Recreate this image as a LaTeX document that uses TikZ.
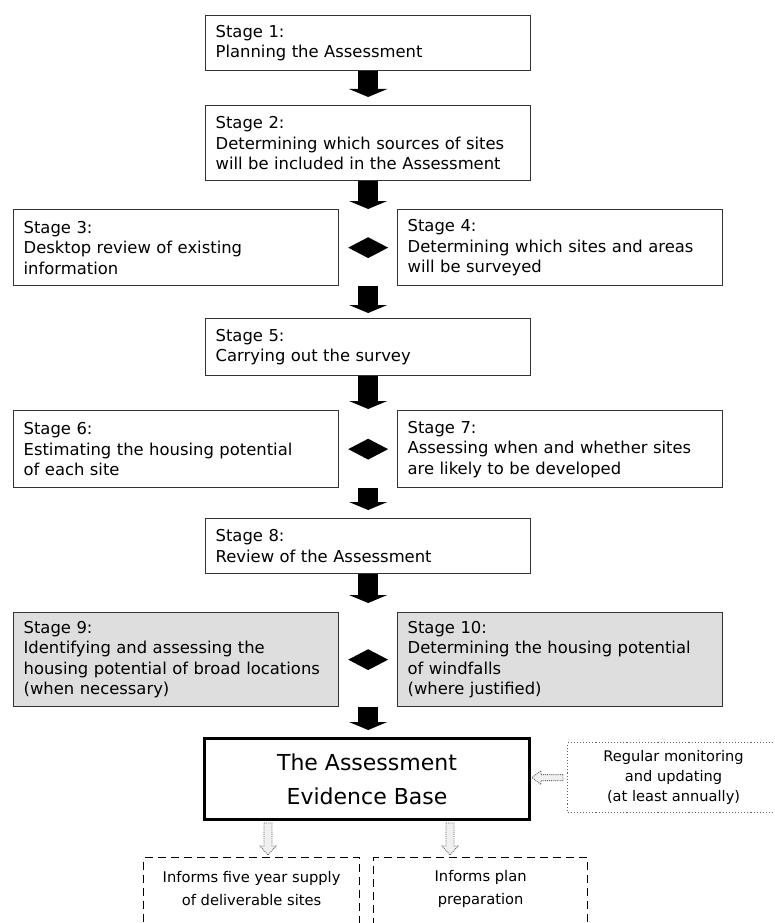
\documentclass[tikz,border=0pt]{standalone}
\usepackage{fontspec}
\setmainfont{DejaVu Sans}
\usetikzlibrary{arrows.meta,shapes.geometric,calc}
\tikzset{
  stagebox/.style={draw=black!80, line width=1.3pt, fill=white, anchor=north west,
    text width=305pt, inner xsep=10pt, inner ysep=0pt, align=left,
    font=\fontsize{16.4}{20.5}\selectfont},
  shaded/.style={fill=black!13},
  blockarrow/.style={line width=20pt, draw=black, -{Triangle[width=38pt,length=8pt]}},
  linkmark/.style={diamond, fill=black, minimum width=40pt, minimum height=21pt, inner sep=0pt},
  basebox/.style={draw=black, line width=3pt, fill=white, anchor=north west, align=center,
    inner sep=0pt, font=\fontsize{22}{34}\selectfont},
  monbox/.style={draw=black!60, line width=1.1pt, dotted, anchor=north west, align=center,
    inner sep=0pt, font=\fontsize{14.6}{20}\selectfont},
  dashbox/.style={draw=black, line width=1.2pt, dash pattern=on 8pt off 5pt, anchor=north west, inner sep=0pt},
  dashtext/.style={align=center, inner sep=0pt, font=\fontsize{14.7}{23}\selectfont},
  hollow/.style={fill=black!6, draw=black!60, line width=0.9pt, densely dotted},
  hdown/.pic={\draw[hollow] (-4,0) -- (4,0) -- (4,23) -- (8,23) -- (0,32) -- (-8,23) -- (-4,23) -- cycle;},
  hleft/.pic={\draw[hollow] (0,-3) -- (-22,-3) -- (-22,-7) -- (-31,0) -- (-22,7) -- (-22,3) -- (0,3) -- cycle;}
}
\begin{document}
\begin{tikzpicture}[x=1pt,y=-1pt]
\useasboundingbox (0,0) rectangle (774,923);
\fill[white] (0,0) rectangle (774,923);
\clip (0,0) rectangle (774,923);

% stages
\node[stagebox, minimum height=55pt] (s1) at (205,15) {Stage 1:\\Planning the Assessment};
\node[stagebox, minimum height=75pt] (s2) at (205,105) {Stage 2:\\Determining which sources of sites\\will be included in the Assessment};
\node[stagebox, minimum height=76pt] (s3) at (13,209) {Stage 3:\\Desktop review of existing\\information};
\node[stagebox, minimum height=76pt] (s4) at (397,209) {Stage 4:\\Determining which sites and areas\\will be surveyed};
\node[stagebox, minimum height=57pt] (s5) at (205,318) {Stage 5:\\Carrying out the survey};
\node[stagebox, minimum height=77pt] (s6) at (13,410) {Stage 6:\\Estimating the housing potential\\of each site};
\node[stagebox, minimum height=77pt] (s7) at (397,410) {Stage 7:\\Assessing when and whether sites\\are likely to be developed};
\node[stagebox, minimum height=55pt] (s8) at (205,518) {Stage 8:\\Review of the Assessment};
\node[stagebox, shaded, minimum height=94pt] (s9) at (13,612) {Stage 9:\\Identifying and assessing the\\housing potential of broad locations\\(when necessary)};
\node[stagebox, shaded, minimum height=94pt] (s10) at (397,612) {Stage 10:\\Determining the housing potential\\of windfalls\\(where justified)};

% evidence base
\node[basebox, minimum width=325pt, minimum height=81pt] (eb) at (203,737) {The Assessment\\Evidence Base};
\node[monbox, minimum width=212pt, minimum height=70pt] (mon) at (567,742) {Regular monitoring\\and updating\\(at least annually)};

% outputs
\node[dashbox, minimum width=216pt, minimum height=110pt] (d1) at (143,857) {};
\node[dashbox, minimum width=214pt, minimum height=110pt] (d2) at (373,857) {};
\node[dashtext] (d1t) at ([yshift=-32pt]d1.north) {Informs five year supply\\of deliverable sites};
\node[dashtext] (d2t) at ([yshift=-32pt]d2.north) {Informs plan\\preparation};

% link diamonds
\node[linkmark] (k1) at ($(s3.east)!0.5!(s4.west)$) {};
\node[linkmark] (k2) at ($(s6.east)!0.5!(s7.west)$) {};
\node[linkmark] (k3) at ($(s9.east)!0.5!(s10.west)$) {};

% block arrows
\draw[blockarrow] (s1.south) -- ([yshift=8pt]s2.north);
\draw[blockarrow] (s2.south) -- (s2.south |- s3.north);
\draw[blockarrow] (s5.north |- s3.south) -- ([yshift=5pt]s5.north);
\draw[blockarrow] (s5.south) -- ([yshift=1pt]s5.south |- s6.north);
\draw[blockarrow] (s8.north |- s6.south) -- ([yshift=8pt]s8.north);
\draw[blockarrow] (s8.south) -- ([yshift=9pt]s8.south |- s9.north);
\draw[blockarrow] (s8.south |- s9.south) -- ([yshift=7pt]s8.south |- eb.north);

% hollow arrows
\coordinate (h1) at ($(eb.south west)+(65,2)$);
\coordinate (h2) at ($(eb.south west)+(247,2)$);
\coordinate (h3) at ([xshift=-4pt]mon.west);
\pic at (h1) {hdown};
\pic at (h2) {hdown};
\pic at (h3) {hleft};
\end{tikzpicture}
\end{document}
